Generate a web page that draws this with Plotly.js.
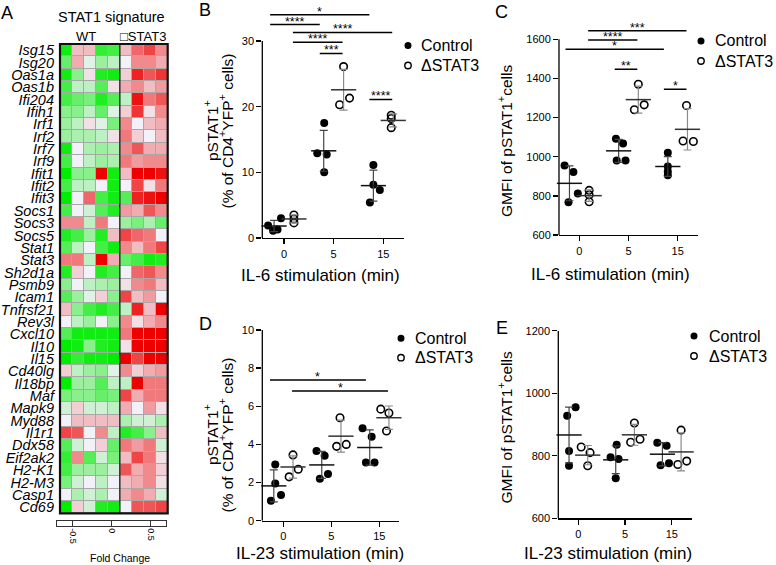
<!DOCTYPE html>
<html><head><meta charset="utf-8">
<script src="https://cdn.plot.ly/plotly-3.0.1.min.js"></script>
<style>html,body{margin:0;padding:0;background:#fff}#chart{width:776px;height:565px}</style>
</head><body><div id="chart"></div>
<script>
// ---------------- DATA ----------------
const genes = ['Isg15','Isg20','Oas1a','Oas1b','Ifi204','Ifih1','Irf1','Irf2','Irf7','Irf9','Ifit1','Ifit2','Ifit3',
  'Socs1','Socs3','Socs5','Stat1','Stat3','Sh2d1a','Psmb9','Icam1','Tnfrsf21','Rev3l','Cxcl10','Il10','Il15',
  'Cd40lg','Il18bp','Maf','Mapk9','Myd88','Il1r1','Ddx58','Eif2ak2','H2-K1','H2-M3','Casp1','Cd69'];
const heatSamples = ['WT1','WT2','WT3','WT4','WT5','KO1','KO2','KO3','KO4'];
const foldChange = [
  [-0.65,0.15,0.15,-0.55,-0.5,0.15,0.4,0.5,0.3],
  [-0.4,0.2,-0.05,-0.25,-0.15,0.0,0.3,0.3,0.2],
  [-0.65,-0.3,0.05,-0.6,-0.65,0.1,0.6,0.45,0.55],
  [-0.5,-0.15,-0.15,-0.45,0.05,0.2,0.3,0.15,0.25],
  [-0.5,-0.4,-0.35,-0.6,-0.45,-0.15,0.65,0.35,0.45],
  [-0.3,-0.3,-0.15,-0.4,-0.05,0.1,0.55,0.05,0.3],
  [-0.25,-0.15,0.05,-0.05,-0.35,0.3,0.0,0.15,0.2],
  [-0.25,-0.2,-0.2,-0.15,0.05,0.35,0.1,0.0,0.15],
  [-0.65,0.0,-0.2,-0.25,-0.2,0.3,0.45,0.2,0.2],
  [-0.5,0.0,-0.15,-0.25,-0.2,0.35,0.25,0.3,0.3],
  [-0.7,-0.3,-0.3,0.7,-0.65,0.15,0.7,0.7,0.65],
  [-0.5,-0.15,-0.15,0.0,-0.65,0.0,0.5,0.05,0.35],
  [-0.7,0.0,0.4,-0.5,-0.65,-0.45,0.6,0.65,0.7],
  [-0.5,0.0,-0.1,-0.45,-0.6,0.25,0.2,0.45,0.3],
  [0.3,0.3,-0.15,0.35,0.0,-0.25,-0.35,-0.2,-0.4],
  [-0.6,-0.5,-0.25,-0.6,0.15,0.5,0.4,0.35,0.0],
  [-0.45,-0.15,0.0,-0.5,-0.65,0.3,0.15,0.35,0.5],
  [0.35,0.35,-0.15,0.7,0.2,-0.4,-0.5,-0.65,-0.6],
  [-0.6,0.1,0.0,-0.6,-0.5,0.0,0.4,0.45,0.3],
  [-0.3,0.0,-0.15,-0.2,-0.25,0.05,0.3,0.35,0.15],
  [-0.45,-0.25,-0.05,0.1,-0.3,0.5,0.15,0.25,0.0],
  [0.15,-0.3,-0.5,-0.6,-0.5,-0.15,0.6,0.15,0.7],
  [0.0,-0.15,-0.25,0.0,-0.3,0.3,0.05,0.2,0.3],
  [-0.45,-0.65,-0.65,-0.65,-0.65,0.35,0.7,0.7,0.7],
  [-0.7,-0.65,-0.3,-0.6,-0.65,0.05,0.7,0.7,0.7],
  [-0.7,-0.55,-0.65,-0.65,-0.7,0.7,0.5,0.7,0.7],
  [0.1,-0.15,-0.25,-0.3,-0.05,0.3,0.1,0.2,0.25],
  [-0.7,-0.25,-0.25,-0.45,-0.15,-0.15,0.7,0.35,0.35],
  [-0.35,-0.3,-0.3,-0.4,-0.35,0.5,0.2,0.35,0.35],
  [-0.1,0.1,-0.1,-0.1,-0.15,0.2,0.0,0.25,0.05],
  [0.0,0.15,0.15,0.15,0.15,-0.2,-0.1,-0.1,-0.2],
  [0.5,0.45,0.0,0.3,-0.15,-0.6,-0.5,-0.3,0.15],
  [-0.45,-0.1,0.0,0.1,-0.4,0.35,0.25,0.35,-0.1],
  [-0.55,0.3,-0.45,-0.1,-0.35,0.15,0.5,0.35,0.05],
  [-0.5,-0.25,-0.25,-0.25,-0.1,0.45,0.2,0.3,0.1],
  [-0.35,-0.1,0.0,-0.15,0.0,0.15,0.2,0.3,0.05],
  [0.0,-0.2,-0.1,-0.2,0.0,0.2,0.3,0.2,-0.1],
  [-0.7,0.1,-0.1,-0.6,-0.65,0.0,0.45,0.45,0.5]
];
const foldTicks = [-0.5, 0, 0.5];
const foldTickText = ['-0.5', '0', '0.5'];

const timeLabels = ['0', '5', '15'];
const seriesNames = ['Control', 'ΔSTAT3'];

// B: IL-6, % pSTAT1+
const b_control = [[1.9,1.1,1.3,3.0],[17.5,12.9,12.7,10.0],[11.1,8.1,7.3,5.4]];
const b_stat3   = [[3.5,2.9,2.3],[26.1,20.3,21.3],[18.7,18.2,16.8]];
// C: IL-6, GMFI
const c_control = [[955,922,812,767],[1092,1068,980,980],[1020,950,925,905]];
const c_stat3   = [[828,805,770],[1370,1240,1265],[1262,1080,1078]];
// D: IL-23, % pSTAT1+
const d_control = [[2.95,1.95,1.05,1.35],[3.65,3.4,2.2,2.45],[4.85,4.4,3.05,3.05]];
const d_stat3   = [[3.45,2.3,2.7],[5.4,3.9,4.0],[5.85,5.65,4.7]];
// E: IL-23, GMFI
const e_control = [[928,955,815,768],[795,790,835,728],[842,832,770,776]];
const e_stat3   = [[828,810,768],[905,843,853],[882,772,783]];

// horizontal scatter spread of the dots (category units, style only)
const b_control_jit = [[-0.12,-0.02,0.07,0.14],[0.01,-0.13,0.06,0.01],[0,0,0.13,-0.07]];
const b_stat3_jit   = [[0,0,0],[0,-0.08,0.12],[-0.04,-0.04,-0.04]];
const c_control_jit = [[-0.1,0.08,0.17,-0.02],[-0.055,0.09,-0.04,0.14],[0,0,0,0]];
const c_stat3_jit   = [[0,0,0],[0,-0.08,0.12],[-0.02,-0.09,0.12]];
const d_control_jit = [[0.03,0.03,-0.06,0.15],[-0.11,0.06,-0.04,0.13],[-0.15,0.04,-0.08,0.1]];
const d_stat3_jit   = [[0,-0.08,0.11],[-0.02,-0.09,0.11],[-0.17,0,-0.05]];
const e_control_jit = [[-0.04,0.14,0,0],[-0.11,0.06,0.02,0],[-0.11,0.09,-0.04,0.14]];
const e_stat3_jit   = [[-0.14,0.05,0],[0,-0.08,0.12],[0,-0.07,0.12]];

// significance comparisons: [time1, group1, time2, group2, level, label]
const b_sig = [[0,'c',2,'c',34.0,'*'],[0,'c',1,'c',32.5,'****'],[0,'k',2,'k',31.3,'****'],
               [0,'k',1,'k',29.8,'****'],[1,'c',1,'k',28.1,'***'],[2,'c',2,'k',21.1,'****']];
const c_sig = [[0,'k',2,'k',1644,'***'],[0,'k',1,'k',1596,'****'],[0,'c',2,'c',1549,'*'],
               [1,'c',1,'k',1447,'**'],[2,'c',2,'k',1345,'*']];
const d_sig = [[0,'c',2,'c',7.38,'*'],[0,'k',2,'k',6.8,'*']];
const e_sig = [];

// ---------------- DRAWING ----------------
const W = 776, H = 565;
const FONT = 'Liberation Sans, Arial, Helvetica, sans-serif';
const px = x => x / W, py = y => 1 - y / H;
const traces = [], shapes = [], annotations = [];
const layout = {
  width: W, height: H, margin: {l:0, r:0, t:0, b:0},
  paper_bgcolor: '#fff', plot_bgcolor: 'rgba(0,0,0,0)',
  font: {family: FONT, color: '#000'}, showlegend: false,
  shapes, annotations
};

function note(text, x, y, size, extra) {
  annotations.push(Object.assign({text, x: px(x), y: py(y), xref: 'paper', yref: 'paper',
    showarrow: false, xanchor: 'center', yanchor: 'middle',
    font: {family: FONT, size, color: '#000'}}, extra || {}));
}

// ---- Panel A heatmap ----
traces.push({
  type: 'heatmap', z: foldChange, x: heatSamples.map((s, i) => i), y: genes,
  xaxis: 'x', yaxis: 'y', zmin: -0.7, zmax: 0.7, showscale: false, xgap: 1, ygap: 1,
  colorscale: [[0, '#00ec00'], [0.5, '#f1f1f7'], [1, '#ee0000']], hoverinfo: 'skip'
});
layout.xaxis = {domain: [px(60), px(167.7)], anchor: 'y', range: [-0.5, 8.5], visible: false, fixedrange: true};
layout.yaxis = {domain: [py(513.3), py(44)], anchor: 'x', type: 'category', autorange: 'reversed',
  tickmode: 'array', tickvals: genes, ticktext: genes,
  ticks: '', showline: false, showgrid: false, zeroline: false, ticklabelstandoff: 5,
  tickfont: {family: FONT, size: 14.5, style: 'italic', color: '#000'}};
shapes.push({type: 'rect', xref: 'x domain', yref: 'y domain', x0: 0, x1: 1, y0: 0, y1: 1,
  fillcolor: '#a8a8a8', line: {width: 0}, layer: 'below'});
shapes.push({type: 'line', xref: 'x', yref: 'y domain', x0: 4.5, x1: 4.5, y0: 0, y1: 1,
  line: {width: 1.5, color: '#333'}});
shapes.push({type: 'rect', xref: 'x domain', yref: 'y domain', x0: 0, x1: 1, y0: 0, y1: 1,
  fillcolor: 'rgba(0,0,0,0)', line: {width: 2.2, color: '#111'}});

// colour key axis
traces.push({type: 'scatter', x: [], y: [], xaxis: 'x6', yaxis: 'y6', hoverinfo: 'skip'});
layout.xaxis6 = {domain: [px(57), px(166)], anchor: 'y6', range: [-0.7, 0.7], tickvals: foldTicks,
  ticktext: foldTickText, tickangle: 90, ticks: 'inside', ticklen: 4.5, tickwidth: 1, tickcolor: '#333',
  showline: true, mirror: true, linecolor: '#333', linewidth: 1, showgrid: false, zeroline: false,
  tickfont: {family: FONT, size: 9, color: '#000'}, fixedrange: true};
layout.yaxis6 = {domain: [py(525.5), py(520.5)], anchor: 'x6', range: [0, 1], showline: true, mirror: true,
  linecolor: '#333', linewidth: 1, showticklabels: false, ticks: '', showgrid: false, zeroline: false, fixedrange: true};
note('Fold Change', 120, 558, 10.5);

note('STAT1 signature', 111.3, 17.3, 14.5);
note('WT', 86, 36.7, 13);
note('\u25A1STAT3', 143, 36.7, 13);

// ---- scatter panels ----
const GROUP_OFF = {c: -0.2, k: 0.2};
const BRACKET_OFF = {c: -0.28, k: 0.18};
const mean = a => a.reduce((s, v) => s + v, 0) / a.length;
const sd = a => { const m = mean(a); return Math.sqrt(a.reduce((s, v) => s + (v - m) * (v - m), 0) / (a.length - 1)); };

function panel(n, cfg) {
  const xa = 'x' + n, ya = 'y' + n;
  [['c', cfg.ctrl, cfg.ctrlJit], ['k', cfg.ko, cfg.koJit]].forEach(([g, vals, jit]) => {
    const xs = [], ys = [];
    vals.forEach((arr, t) => arr.forEach((v, i) => { xs.push(t + GROUP_OFF[g] + jit[t][i]); ys.push(v); }));
    traces.push({type: 'scatter', mode: 'markers', x: xs, y: ys, xaxis: xa, yaxis: ya, cliponaxis: false,
      hoverinfo: 'skip',
      marker: g === 'c' ? {symbol: 'circle', size: 8, color: '#000'}
                        : {symbol: 'circle-open', size: 7.5, color: '#000', line: {width: 1.6, color: '#000'}}});
    traces.push({type: 'scatter', mode: 'markers', xaxis: xa, yaxis: ya, cliponaxis: false, hoverinfo: 'skip',
      x: vals.map((a, t) => t + GROUP_OFF[g]), y: vals.map(mean),
      error_y: {type: 'data', array: vals.map(sd), visible: true, color: g === 'c' ? '#444' : '#8a8a8a',
        thickness: 1.2, width: 4},
      marker: {symbol: 'line-ew', size: 18, color: '#111', line: {width: 1.5, color: g === 'c' ? '#111' : '#333'}}});
  });
  layout['xaxis' + n] = {domain: [px(cfg.xpx[0]), px(cfg.xpx[1])], anchor: ya, range: cfg.xr,
    tickvals: [0, 1, 2], ticktext: timeLabels, ticks: 'outside', ticklen: 5, tickwidth: 1.3, tickcolor: '#000',
    showline: true, linecolor: '#000', linewidth: 1.3, showgrid: false, zeroline: false,
    tickfont: {family: FONT, size: 11, color: '#000'}, fixedrange: true};
  layout['yaxis' + n] = {domain: [py(cfg.ypx[0]), py(cfg.ypx[1])], anchor: xa, range: cfg.yr,
    tickvals: cfg.yticks, ticks: 'outside', ticklen: 5, tickwidth: 1.3, tickcolor: '#000',
    showline: false, showgrid: false, zeroline: false,
    tickfont: {family: FONT, size: 11, color: '#000'}, fixedrange: true};
  const yTop = cfg.yticks[cfg.yticks.length - 1];
  shapes.push({type: 'line', xref: xa + ' domain', yref: ya, x0: 0, x1: 0, y0: cfg.yr[0], y1: yTop,
    line: {width: 1.3, color: '#000'}});
  cfg.sig.forEach(([t1, g1, t2, g2, lvl, lab]) => {
    const x0 = t1 + BRACKET_OFF[g1], x1 = t2 + BRACKET_OFF[g2];
    shapes.push({type: 'line', xref: xa, yref: ya, x0, x1, y0: lvl, y1: lvl, line: {width: 1.5, color: '#000'}});
    annotations.push({text: lab, xref: xa, yref: ya, x: (x0 + x1) / 2, y: lvl, showarrow: false,
      xanchor: 'center', yanchor: 'bottom', yshift: -6, font: {family: FONT, size: 12.5, color: '#000'}});
  });
}

panel(2, {ctrl: b_control, ko: b_stat3, ctrlJit: b_control_jit, koJit: b_stat3_jit, sig: b_sig,
  xpx: [262.3, 404.3], xr: [-0.437, 2.423], ypx: [238, 1.57], yr: [0, 36], yticks: [0, 10, 20, 30]});
panel(3, {ctrl: c_control, ko: c_stat3, ctrlJit: c_control_jit, koJit: c_stat3_jit, sig: c_sig,
  xpx: [559, 698.3], xr: [-0.413, 2.42], ypx: [235, 19.7], yr: [600, 1700], yticks: [600, 800, 1000, 1200, 1400, 1600]});
panel(4, {ctrl: d_control, ko: d_stat3, ctrlJit: d_control_jit, koJit: d_stat3_jit, sig: d_sig,
  xpx: [262.3, 399], xr: [-0.44, 2.41], ypx: [520.7, 330], yr: [0, 10], yticks: [0, 2, 4, 6, 8, 10]});
panel(5, {ctrl: e_control, ko: e_stat3, ctrlJit: e_control_jit, koJit: e_stat3_jit, sig: e_sig,
  xpx: [558.3, 692.3], xr: [-0.43, 2.44], ypx: [518.3, 330.7], yr: [600, 1200], yticks: [600, 800, 1000, 1200]});

// axis titles
const TS = 15.5, XS = 17;
note('pSTAT1<sup>+</sup>', 211, 130, TS, {textangle: -90});
note('(% of CD4<sup>+</sup>YFP<sup>+</sup> cells)', 226.5, 131, TS, {textangle: -90});
note('pSTAT1<sup>+</sup>', 211, 434, TS, {textangle: -90});
note('(% of CD4<sup>+</sup>YFP<sup>+</sup> cells)', 226.5, 435, TS, {textangle: -90});
note('GMFI of pSTAT1<sup>+</sup>cells', 505, 141, TS, {textangle: -90});
note('GMFI of pSTAT1<sup>+</sup>cells', 505, 427.5, TS, {textangle: -90});
note('IL-6 stimulation (min)', 320, 275, XS);
note('IL-6 stimulation (min)', 610, 274, XS);
note('IL-23 stimulation (min)', 320, 553, XS);
note('IL-23 stimulation (min)', 607.5, 553, XS);

// panel letters
[['A', 7, 13], ['B', 205, 10], ['C', 501, 12], ['D', 205, 324], ['E', 502, 327.5]]
  .forEach(([l, x, y]) => note(l, x, y, 18));

// legends
function legend(mx, y1, y2, tx) {
  shapes.push({type: 'circle', xref: 'paper', yref: 'paper', xsizemode: 'pixel', ysizemode: 'pixel',
    xanchor: px(mx), yanchor: py(y1), x0: -3.5, x1: 3.5, y0: -3.5, y1: 3.5, fillcolor: '#000', line: {width: 0}});
  shapes.push({type: 'circle', xref: 'paper', yref: 'paper', xsizemode: 'pixel', ysizemode: 'pixel',
    xanchor: px(mx), yanchor: py(y2), x0: -3.2, x1: 3.2, y0: -3.2, y1: 3.2, fillcolor: 'rgba(0,0,0,0)',
    line: {width: 1.4, color: '#000'}});
  note(seriesNames[0], tx, y1, 16, {xanchor: 'left'});
  note(seriesNames[1], tx, y2, 16, {xanchor: 'left'});
}
legend(408, 45.5, 65.5, 419);
legend(701, 41, 61, 713);
legend(401, 338.3, 357.7, 413);
legend(694, 336, 356, 707);

Plotly.newPlot('chart', traces, layout, {displayModeBar: false, staticPlot: true});
</script>
</body></html>
